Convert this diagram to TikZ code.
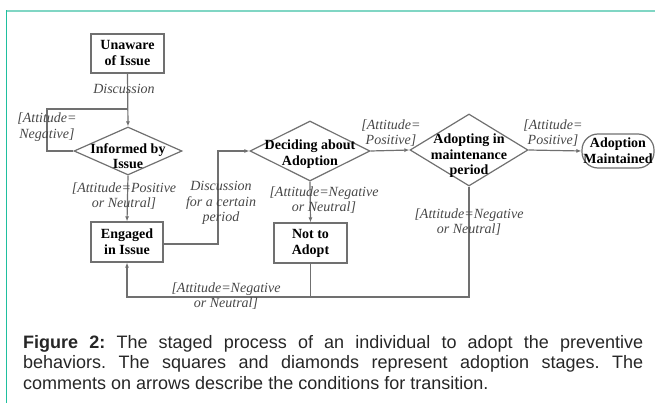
\documentclass[tikz,border=0pt]{standalone}
\usepackage{fontspec}
\setmainfont{Liberation Serif}
\newfontfamily\capfont{Liberation Sans}
\usetikzlibrary{shapes.geometric,arrows.meta,calc}
\definecolor{linegray}{HTML}{707070}
\definecolor{labgray}{HTML}{474747}
\definecolor{tealA}{HTML}{1FBF9F}
\definecolor{tealB}{HTML}{80D6C4}
\tikzset{
  conn/.style={draw=linegray, line width=1.2pt},
  arr/.style={conn, -{Latex[length=5pt,width=4pt]}},
  stagebox/.style={draw=linegray, line width=1.2pt, inner sep=0pt, align=center,
     font={\fontsize{14}{16}\selectfont\bfseries}},
  dia/.style={diamond, draw=linegray, line width=1.2pt, inner sep=0pt},
  dtext/.style={inner sep=0pt, align=center, font={\fontsize{14}{15.5}\selectfont\bfseries}},
  lab/.style={inner sep=0pt, align=center, text=labgray, font={\fontsize{14}{15.5}\selectfont\itshape}},
}
\begin{document}
\begin{tikzpicture}[x=1pt,y=-1pt]
\useasboundingbox (0,0) rectangle (655,403);
% frame
\draw[tealB, line width=1.6pt] (6,11) -- (655,11);
\draw[tealA, line width=1.5pt] (6.5,10.5) -- (6.5,403);

% stages
\node[stagebox, minimum width=73pt, minimum height=39pt] (un) at (127.5,53.5) {Unaware\\of Issue};
\node[dia, minimum width=108pt, minimum height=48pt] (inf) at (128,151) {};
\node[dtext] at ($(inf)+(0,5)$) {Informed by\\Issue};
\node[stagebox, minimum width=72pt, minimum height=40pt] (eng) at (127,242) {Engaged\\in Issue};
\node[dia, minimum width=120pt, minimum height=60pt] (dec) at (310,151) {};
\node[dtext] at ($(dec)+(0,3)$) {Deciding about\\Adoption};
\node[stagebox, minimum width=73pt, minimum height=40pt] (nta) at (310.5,243) {Not to\\Adopt};
\node[dia, minimum width=118pt, minimum height=72pt] (ado) at (469,150) {};
\node[dtext] at ($(ado)+(0,6)$) {Adopting in\\maintenance\\period};
\node[stagebox, rounded corners=16pt, minimum width=72pt, minimum height=34pt] (am) at (618,151) {Adoption\\Maintained};

% connectors
\coordinate (lp) at (47,109);
\coordinate (j1) at (127.5,109);
\coordinate (c1) at (218,244);
\coordinate (b1) at (127,297);

\draw[arr] (un.south) -- (inf.north);
\draw[conn] (inf.west) -| (lp) -- (j1);
\draw[arr] (inf.south) -- (eng.north);
\draw[arr] (eng.east |- c1) -- (c1) |- (dec.west);
\draw[arr] (dec.east) -- (ado.west);
\draw[arr] (dec.south) -- (nta.north);
\draw[arr] (ado.east) -- (am.west);
\draw[arr] (ado.south) |- (b1) -- (eng.south);
\draw[conn] (nta.south) -- (nta.south |- b1);

% labels
\node[lab] at (124,89) {Discussion};
\node[lab] at (47,127) {[Attitude=\\Negative]};
\node[lab] at (124,196) {[Attitude=Positive\\or Neutral]};
\node[lab] at (221,203) {Discussion\\for a certain\\period};
\node[lab] at (391,133) {[Attitude=\\Positive]};
\node[lab] at (324,200) {[Attitude=Negative\\or Neutral]};
\node[lab] at (553,133) {[Attitude=\\Positive]};
\node[lab] at (469,222) {[Attitude=Negative\\or Neutral]};
\node[lab] at (226,296) {[Attitude=Negative\\or Neutral]};

% caption
\node[anchor=base west, inner sep=0pt, text width=620pt, align=justify, text=black!85,
  font={\capfont\fontsize{18}{20.5}\selectfont}] (cap) at (23,348)
  {\frenchspacing\hyphenpenalty=10000\textbf{Figure 2:} The staged process of an individual to adopt the preventive\linebreak
   behaviors. The squares and diamonds represent adoption stages. The\linebreak
   comments on arrows describe the conditions for transition.};
\end{tikzpicture}
\end{document}
